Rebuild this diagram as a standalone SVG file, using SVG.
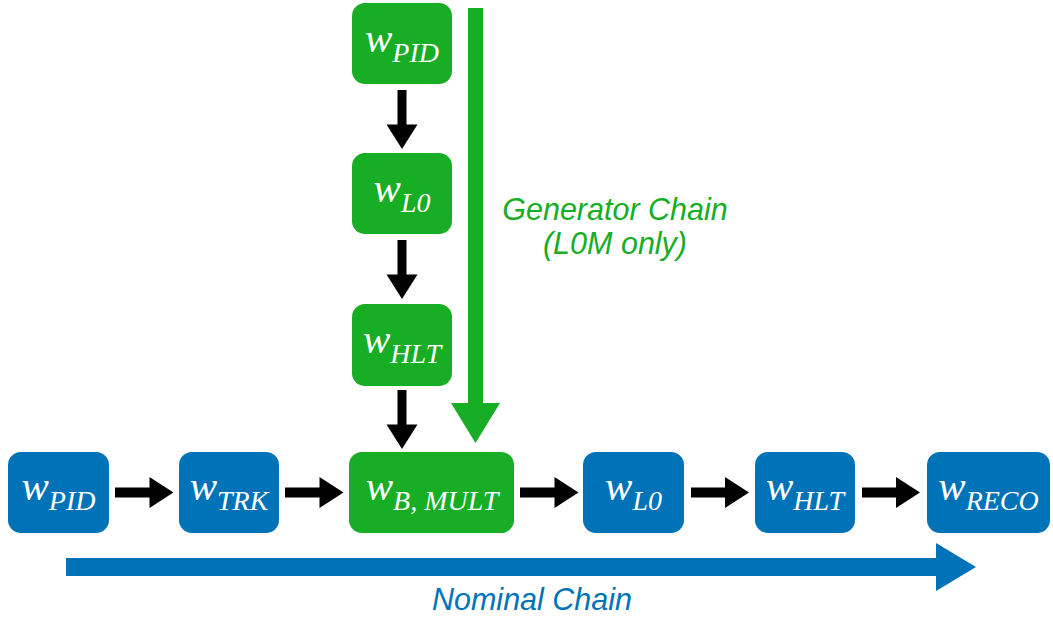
<svg xmlns="http://www.w3.org/2000/svg" width="1053" height="617" viewBox="0 0 1053 617">
<style>
.g{fill:#17ad25}
.b{fill:#0073b8}
.k{fill:#000}
.lbl{font-family:"Liberation Serif","Times New Roman",serif;font-style:italic;fill:#fff;font-size:41px}
.sub{font-size:28px}
.cap{font-family:"Liberation Sans",Arial,sans-serif;font-style:italic;font-size:30.5px}
</style>
<rect width="1053" height="617" fill="#fff"/>
<g id="connectors">
  <polygon class="k" points="397.5,90 406.5,90 406.5,124.5 417.5,124.5 402,149 386.5,124.5 397.5,124.5"/>
  <polygon class="k" points="397.5,240 406.5,240 406.5,274.5 417.5,274.5 402,299 386.5,274.5 397.5,274.5"/>
  <polygon class="k" points="397.5,390 406.5,390 406.5,424.5 417.5,424.5 402,449 386.5,424.5 397.5,424.5"/>
  <polygon class="k" points="115,487.5 149.5,487.5 149.5,477 173.5,492.5 149.5,508 149.5,497.5 115,497.5"/>
  <polygon class="k" points="285,487.5 319.5,487.5 319.5,477 343.5,492.5 319.5,508 319.5,497.5 285,497.5"/>
  <polygon class="k" points="520,487.5 554.5,487.5 554.5,477 578.5,492.5 554.5,508 554.5,497.5 520,497.5"/>
  <polygon class="k" points="691,487.5 725,487.5 725,477 749,492.5 725,508 725,497.5 691,497.5"/>
  <polygon class="k" points="862,487.5 896,487.5 896,477 920,492.5 896,508 896,497.5 862,497.5"/>
  <polygon class="g" points="468,8 483,8 483,403 500,403 475.5,443 451,403 468,403"/>
  <polygon class="b" points="66,558 936,558 936,543 976,567 936,591 936,576 66,576"/>
</g>
<g id="gen-pid">
  <rect class="g" x="352" y="3" width="100" height="81" rx="13"/>
  <text class="lbl" x="402" y="52" text-anchor="middle">w<tspan class="sub" dy="10">PID</tspan></text>
</g>
<g id="gen-l0">
  <rect class="g" x="352" y="153" width="100" height="81" rx="13"/>
  <text class="lbl" x="402" y="202" text-anchor="middle">w<tspan class="sub" dy="10">L0</tspan></text>
</g>
<g id="gen-hlt">
  <rect class="g" x="352" y="304" width="100" height="82" rx="13"/>
  <text class="lbl" x="402" y="353" text-anchor="middle">w<tspan class="sub" dy="10">HLT</tspan></text>
</g>
<g id="b-mult">
  <rect class="g" x="349" y="452" width="165" height="81" rx="13"/>
  <text class="lbl" x="432" y="500" text-anchor="middle">w<tspan class="sub" dy="10">B, MULT</tspan></text>
</g>
<g id="nom-pid">
  <rect class="b" x="8" y="452" width="101" height="81" rx="13"/>
  <text class="lbl" x="58.5" y="500" text-anchor="middle">w<tspan class="sub" dy="10">PID</tspan></text>
</g>
<g id="nom-trk">
  <rect class="b" x="179" y="452" width="100" height="81" rx="13"/>
  <text class="lbl" x="229" y="500" text-anchor="middle">w<tspan class="sub" dy="10">TRK</tspan></text>
</g>
<g id="nom-l0">
  <rect class="b" x="583" y="452" width="101" height="81" rx="13"/>
  <text class="lbl" x="633.5" y="500" text-anchor="middle">w<tspan class="sub" dy="10">L0</tspan></text>
</g>
<g id="nom-hlt">
  <rect class="b" x="755" y="452" width="100" height="81" rx="13"/>
  <text class="lbl" x="805" y="500" text-anchor="middle">w<tspan class="sub" dy="10">HLT</tspan></text>
</g>
<g id="nom-reco">
  <rect class="b" x="927" y="452" width="123" height="81" rx="13"/>
  <text class="lbl" x="988.5" y="500" text-anchor="middle">w<tspan class="sub" dy="10">RECO</tspan></text>
</g>
<g id="captions">
  <text class="cap g" x="615" y="220" text-anchor="middle">Generator Chain</text>
  <text class="cap g" x="615" y="254" text-anchor="middle">(L0M only)</text>
  <text class="cap b" x="532" y="610" text-anchor="middle">Nominal Chain</text>
</g>
</svg>
